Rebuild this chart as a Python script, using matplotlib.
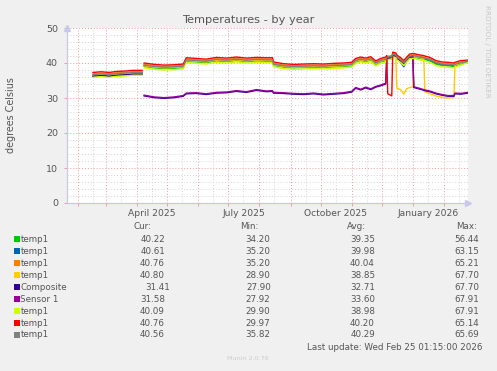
import numpy as np
import pandas as pd
import matplotlib
matplotlib.use("Agg")
import matplotlib.pyplot as plt
import matplotlib.dates as mdates
import matplotlib.transforms as mtransforms
from matplotlib.patches import Rectangle

nan = np.nan

# sample dates (one shared time base for every sensor)
dates = [
    "2025-02-16", "2025-02-24", "2025-03-04", "2025-03-12", "2025-03-20", "2025-03-28", "2025-04-06", "2025-04-07",
    "2025-04-08", "2025-04-18", "2025-04-28", "2025-05-08", "2025-05-17", "2025-05-20", "2025-05-30", "2025-06-09",
    "2025-06-19", "2025-06-29", "2025-07-09", "2025-07-19", "2025-07-29", "2025-08-08", "2025-08-14",
    "2025-08-15", "2025-08-25", "2025-09-04", "2025-09-14", "2025-09-24", "2025-10-04", "2025-10-14", "2025-10-24",
    "2025-11-01", "2025-11-05", "2025-11-10", "2025-11-15", "2025-11-20", "2025-11-25", "2025-11-30", "2025-12-05",
    "2025-12-06", "2025-12-07", "2025-12-11", "2025-12-12", "2025-12-15", "2025-12-16", "2025-12-20", "2025-12-23",
    "2025-12-26", "2025-12-29", "2026-01-01", "2026-01-02",
    "2026-01-06", "2026-01-12", "2026-01-13", "2026-01-18", "2026-01-24", "2026-01-30", "2026-02-05", "2026-02-11",
    "2026-02-12", "2026-02-18", "2026-02-25",
]

green = [36.3, 36.5, 36.3, 36.6, 36.7, 36.9, 36.9, nan,
         39.0, 38.6, 38.4, 38.5, 38.7, 40.5, 40.3, 40.1, 40.6, 40.4, 40.7, 40.4, 40.6, 40.5, 40.5,
         39.3, 38.8, 38.6, 38.7, 38.8, 38.7, 38.9, 39.0, 39.2, 40.3, 40.7, 40.4, 40.8, 39.6, 40.3, 40.7,
         41.1, 41.3, 41.5, 42.1, 41.9, 41.3, 40.5, 39.7, 40.7, 41.6, 41.7, 41.7,
         41.4, 41.1, 41.0, 40.6, 39.7, 39.3, 39.2, 39.0, 39.2, 39.7, 40.2]
blue = [36.6, 36.8, 36.6, 36.9, 37.0, 37.2, 37.2, nan,
        39.3, 38.9, 38.7, 38.8, 39.0, 40.8, 40.6, 40.4, 40.9, 40.7, 41.0, 40.7, 40.9, 40.8, 40.8,
        39.6, 39.1, 38.9, 39.0, 39.1, 39.0, 39.2, 39.3, 39.5, 40.6, 41.0, 40.7, 41.1, 39.9, 40.6, 41.0,
        41.4, 41.6, 41.8, 42.4, 42.2, 41.6, 40.2, 38.9, 40.8, 41.9, 42.0, 42.0,
        41.7, 41.4, 41.3, 40.9, 40.0, 39.6, 39.5, 39.3, 39.5, 40.0, 40.6]
orange = [36.9, 37.1, 36.9, 37.2, 37.3, 37.5, 37.5, nan,
          39.6, 39.2, 39.0, 39.1, 39.3, 41.1, 40.9, 40.7, 41.2, 41.0, 41.3, 41.0, 41.2, 41.1, 41.1,
          39.9, 39.4, 39.2, 39.3, 39.4, 39.3, 39.5, 39.6, 39.8, 40.9, 41.3, 41.0, 41.4, 40.2, 40.9, 41.3,
          41.7, 41.9, 42.1, 42.9, 42.5, 41.9, 41.1, 40.3, 41.3, 42.2, 42.3, 42.3,
          42.0, 41.7, 41.6, 41.2, 40.3, 39.9, 39.8, 39.6, 39.8, 40.3, 40.8]
yellow = [36.5, 36.7, 36.5, 36.8, 36.9, 37.1, 37.1, nan,
          39.2, 38.8, 38.6, 38.7, 38.9, 40.7, 40.5, 40.3, 40.8, 40.6, 40.9, 40.6, 40.8, 40.7, 40.7,
          39.5, 39.0, 38.8, 38.9, 39.0, 38.9, 39.1, 39.2, 39.4, 40.5, 40.9, 40.6, 41.0, 39.8, 40.5, 40.9,
          41.3, 41.5, 41.7, 42.3, 42.1, 32.8, 32.4, 31.1, 32.7, 33.0, 33.2, 41.9,
          41.6, 41.3, 31.8, 31.2, 30.6, 30.2, 30.0, 30.2, 39.4, 39.9, 40.8]
composite = [36.2, 36.4, 36.2, 36.5, 36.6, 36.8, 36.8, nan,
             30.6, 30.1, 29.9, 30.1, 30.5, 31.2, 31.3, 31.0, 31.4, 31.5, 31.9, 31.6, 32.2, 31.8, 31.9,
             31.4, 31.3, 31.1, 31.0, 31.2, 30.9, 31.1, 31.3, 31.7, 32.8, 32.3, 32.9, 32.4, 33.1, 33.5, 34.0,
             41.2, 41.4, 41.6, 42.2, 42.0, 41.4, 40.6, 39.8, 40.8, 41.7, 41.8, 33.0,
             32.7, 32.2, 32.1, 31.8, 31.2, 30.8, 30.5, 30.5, 31.2, 31.1, 31.4]
sensor1 = [nan, nan, nan, nan, nan, nan, nan, nan,
           30.8, 30.3, 30.1, 30.3, 30.7, 31.4, 31.5, 31.2, 31.6, 31.7, 32.1, 31.8, 32.4, 32.0, 32.1,
           31.6, 31.5, 31.3, 31.2, 31.4, 31.1, 31.3, 31.5, 31.9, 33.0, 32.5, 33.1, 32.6, 33.3, 33.7, 34.2,
           41.3, 41.5, 41.7, 42.3, 42.1, 41.5, 40.7, 39.9, 40.9, 41.8, 41.9, 33.2,
           32.9, 32.4, 32.3, 32.0, 31.4, 31.0, 30.7, 30.7, 31.4, 31.3, 31.6]
lime = [35.9, 36.1, 35.9, 36.2, 36.3, 36.5, 36.5, nan,
        38.6, 38.2, 38.0, 38.1, 38.3, 40.1, 39.9, 39.7, 40.2, 40.0, 40.3, 40.0, 40.2, 40.1, 40.1,
        38.9, 38.4, 38.2, 38.3, 38.4, 38.3, 38.5, 38.6, 38.8, 39.9, 40.3, 40.0, 40.4, 39.2, 39.9, 40.3,
        40.7, 40.9, 41.1, 41.7, 41.5, 40.9, 40.1, 39.3, 40.3, 41.2, 41.3, 41.3,
        41.0, 40.7, 40.6, 40.2, 39.3, 38.9, 38.8, 38.6, 38.8, 39.4, 40.1]
red = [37.3, 37.5, 37.3, 37.6, 37.7, 37.9, 37.9, nan,
       40.0, 39.6, 39.4, 39.5, 39.7, 41.5, 41.3, 41.1, 41.6, 41.4, 41.7, 41.4, 41.6, 41.5, 41.5,
       40.3, 39.8, 39.6, 39.7, 39.8, 39.7, 39.9, 40.0, 40.2, 41.3, 41.7, 41.4, 41.8, 40.6, 41.3, 41.7,
       42.1, 31.2, 30.6, 43.1, 42.9, 42.3, 41.5, 40.7, 41.7, 42.6, 42.7, 42.7,
       42.4, 42.1, 42.0, 41.6, 40.7, 40.3, 40.2, 40.0, 40.2, 40.7, 40.8]
gray = [36.7, 36.9, 36.7, 37.0, 37.1, 37.3, 37.3, nan,
        39.4, 39.0, 38.8, 38.9, 39.1, 40.9, 40.7, 40.5, 41.0, 40.8, 41.1, 40.8, 41.0, 40.9, 40.9,
        39.7, 39.2, 39.0, 39.1, 39.2, 39.1, 39.3, 39.4, 39.6, 40.7, 41.1, 40.8, 41.2, 40.0, 40.7, 41.1,
        41.5, 41.7, 41.9, 42.5, 42.3, 41.7, 40.9, 40.1, 41.1, 42.0, 42.1, 42.1,
        41.8, 41.5, 41.4, 41.0, 40.1, 39.7, 39.6, 39.4, 39.6, 40.1, 40.6]

names = ["temp1", "temp1", "temp1", "temp1", "Composite", "Sensor 1", "temp1", "temp1", "temp1"]
colors = ["#00CC00", "#0066B3", "#FF8000", "#FFCC00", "#330099", "#990099", "#CCFF00", "#FF0000", "#808080"]
series = [green, blue, orange, yellow, composite, sensor1, lime, red, gray]

cur = ["40.22", "40.61", "40.76", "40.80", "31.41", "31.58", "40.09", "40.76", "40.56"]
mins = ["34.20", "35.20", "35.20", "28.90", "27.90", "27.92", "29.90", "29.97", "35.82"]
avgs = ["39.35", "39.98", "40.04", "38.85", "32.71", "33.60", "38.98", "40.20", "40.29"]
maxs = ["56.44", "63.15", "65.21", "67.70", "67.70", "67.91", "67.91", "65.14", "65.69"]

quarter_labels = ["April 2025", "July 2025", "October 2025", "January 2026"]
quarter_pos = ["2025-04-16", "2025-07-16", "2025-10-16", "2026-01-16"]

BG = "#F0F0F0"
TXT = "#555555"
W, H = 497, 371

def fx(px):
    return px / W

def fy(py):
    return 1 - py / H

fig = plt.figure(figsize=(W / 100, H / 100), dpi=100, facecolor=BG)
ax = fig.add_axes([fx(67), fy(203), (468 - 67) / W, (203 - 28) / H])
ax.set_facecolor("white")

t = pd.to_datetime(dates)
for vals, c in zip(series, colors):
    ax.plot(t, vals, color=c, lw=1.0)

ax.set_xlim(pd.Timestamp("2025-01-21 01:15"), pd.Timestamp("2026-02-25 01:15"))
ax.set_ylim(0, 50)

ax.xaxis.set_major_locator(mdates.MonthLocator())
ax.xaxis.set_minor_locator(mdates.MonthLocator(bymonthday=16))
ax.xaxis.set_major_formatter(plt.NullFormatter())
ax.yaxis.set_major_locator(plt.MultipleLocator(10))
ax.yaxis.set_minor_locator(plt.MultipleLocator(2))

dot = (0, (1, 2))
ax.grid(which="minor", color="#D4D4D4", lw=0.7, linestyle=dot)
ax.grid(which="major", color="#F09A9A", lw=0.7, linestyle=dot)
ax.set_axisbelow(True)

ax.tick_params(which="major", length=2.5, width=0.7, color="#F09A9A", labelsize=6.8,
               labelcolor=TXT, pad=4)
ax.tick_params(which="minor", length=0)

for s in ["top", "right"]:
    ax.spines[s].set_visible(False)
for s in ["left", "bottom"]:
    ax.spines[s].set_color("#C8C8EC")
    ax.spines[s].set_linewidth(0.9)

# axis arrows
ax.plot([0], [1.0], marker="^", ms=4, color="#C8C8EC", transform=ax.transAxes, clip_on=False)
ax.plot([1.0], [0], marker=">", ms=4, color="#C8C8EC", transform=ax.transAxes, clip_on=False)

lab_tr = mtransforms.blended_transform_factory(ax.transData, fig.transFigure)
for lab, pos in zip(quarter_labels, quarter_pos):
    ax.text(pd.Timestamp(pos), fy(213), lab, transform=lab_tr,
            ha="center", va="center", fontsize=6.6, color=TXT)

fig.text(0.5, fy(20), "Temperatures - by year", ha="center", va="center", fontsize=8.2, color=TXT)
fig.text(fx(11), fy(115), "degrees Celsius", rotation=90, ha="center", va="center",
         fontsize=6.9, color=TXT)
fig.text(fx(487), fy(51), "RRDTOOL / TOBI OETIKER", rotation=270, ha="center", va="center",
         fontsize=5.2, color="#C8C8C8")

# legend table
fs = 6.3
fig.text(fx(133), fy(226.7), "Cur:", ha="left", va="center", fontsize=fs, color=TXT)
fig.text(fx(240), fy(226.7), "Min:", ha="left", va="center", fontsize=fs, color=TXT)
fig.text(fx(347), fy(226.7), "Avg:", ha="left", va="center", fontsize=fs, color=TXT)
fig.text(fx(456), fy(226.7), "Max:", ha="left", va="center", fontsize=fs, color=TXT)
for i in range(len(names)):
    y = 239.3 + i * 11.96
    fig.patches.append(Rectangle((fx(14), fy(y + 3)), 6 / W, 6 / H, transform=fig.transFigure,
                                 facecolor=colors[i], edgecolor="none"))
    fig.text(fx(20.5), fy(y), names[i], ha="left", va="center", fontsize=fs, color=TXT)
    shift = 5 if names[i] == "Composite" else 0
    fig.text(fx(165 + shift), fy(y), cur[i], ha="right", va="center", fontsize=fs, color=TXT)
    fig.text(fx(270 + shift * 0.3), fy(y), mins[i], ha="right", va="center", fontsize=fs, color=TXT)
    fig.text(fx(375), fy(y), avgs[i], ha="right", va="center", fontsize=fs, color=TXT)
    fig.text(fx(479), fy(y), maxs[i], ha="right", va="center", fontsize=fs, color=TXT)

fig.text(fx(482), fy(347.7), "Last update: Wed Feb 25 01:15:00 2026", ha="right", va="center",
         fontsize=fs, color=TXT)
fig.text(fx(248), fy(358.7), "Munin 2.0.76", ha="center", va="center", fontsize=4.6, color="#CCCCCC")

fig.savefig("out.png", dpi=100, facecolor=BG)
